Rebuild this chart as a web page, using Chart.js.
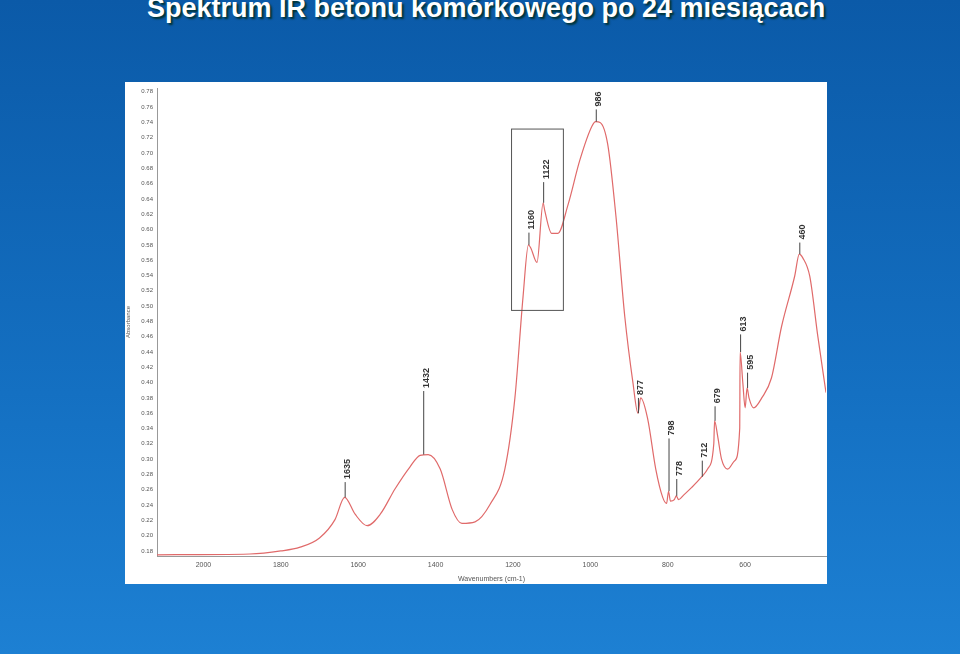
<!DOCTYPE html>
<html><head><meta charset="utf-8">
<script src="https://cdn.jsdelivr.net/npm/chart.js@4/dist/chart.umd.min.js"></script>
<style>
body{margin:0;width:960px;height:654px;overflow:hidden;background:linear-gradient(180deg,#0b5aa8 0%,#1470c2 60%,#1d80d3 100%);font-family:"Liberation Sans",Arial,sans-serif;position:relative}
#t{position:absolute;left:147px;top:-7px;color:#fff;font-weight:bold;font-size:27px;text-shadow:2px 2px 2px #033;white-space:nowrap}
#box{position:absolute;left:125px;top:82px;width:702px;height:502px;background:#fff}
</style></head><body>
<div id="t">Spektrum IR betonu komórkowego po 24 miesiącach</div>
<div id="box"><canvas id="c" width="702" height="502"></canvas></div>
<script>
const wavenumbers=[2120,1880,1800,1750,1700,1660,1635,1608,1577,1543,1505,1466,1440,1419,1388,1357,1332,1298,1259,1221,1195,1174,1160,1154,1138,1122,1118,1100,1084,1058,1027,996,986,975,955,934,911,890,877,870,852,831,813,803,798,793,783,778,772,759,738,712,697,681,679,671,661,645,627,614,613,606,600,595,590,578,557,532,506,472,460,451,433,412,391];
const absorbance=[0.175,0.176,0.18,0.185,0.197,0.221,0.25,0.228,0.213,0.228,0.261,0.29,0.305,0.306,0.287,0.234,0.216,0.218,0.241,0.287,0.38,0.512,0.58,0.576,0.557,0.635,0.625,0.595,0.595,0.632,0.691,0.735,0.741,0.740,0.711,0.618,0.486,0.40,0.36,0.38,0.353,0.287,0.25,0.242,0.258,0.245,0.247,0.252,0.247,0.253,0.263,0.277,0.287,0.32,0.35,0.33,0.30,0.287,0.298,0.34,0.44,0.40,0.367,0.393,0.38,0.367,0.38,0.406,0.473,0.539,0.568,0.563,0.539,0.46,0.387];
const peakLabels=["1635","1432","1160","1122","986","877","798","778","712","679","613","595","460"];
const peakPos=[1635,1432,1160,1122,986,877,798,778,712,679,613,595,460];
const peakLineTop=[0.27,0.389,0.596,0.662,0.757,0.38,0.327,0.274,0.298,0.369,0.463,0.413,0.583];
const peakLineBottom=[0.25,0.306,0.58,0.635,0.741,0.36,0.258,0.252,0.277,0.35,0.44,0.393,0.568];
const xTicks=[2000,1800,1600,1400,1200,1000,800,600];
const boxRange={x1:1205,x2:1071,y1:0.732,y2:0.495};
const ann={id:'ann',afterDatasetsDraw(ch){const c=ch.ctx,x=ch.scales.x,y=ch.scales.y;c.save();
c.strokeStyle='#444';c.lineWidth=1;c.fillStyle='#333';c.font='bold 9px "Liberation Sans",Arial';
peakLabels.forEach((l,i)=>{const px=x.getPixelForValue(peakPos[i]),t=y.getPixelForValue(peakLineTop[i]),b=y.getPixelForValue(peakLineBottom[i]);
c.beginPath();c.moveTo(px+0.5,b);c.lineTo(px+0.5,t);c.stroke();
c.save();c.translate(px+3,t-3);c.rotate(-Math.PI/2);c.textBaseline='middle';c.fillText(l,0,0);c.restore();});
c.strokeStyle='#555';const a=x.getPixelForValue(boxRange.x1),bx=x.getPixelForValue(boxRange.x2),ya=y.getPixelForValue(boxRange.y1),yb=y.getPixelForValue(boxRange.y2);
c.strokeRect(a+0.5,ya+0.5,bx-a,yb-ya);c.restore();}};
new Chart(document.getElementById('c'),{type:'line',
data:{datasets:[{data:wavenumbers.map((w,i)=>({x:w,y:absorbance[i]})),borderColor:'#e06a6a',borderWidth:1.2,pointRadius:0,cubicInterpolationMode:'monotone'}]},
options:{responsive:false,animation:false,layout:{padding:{top:6,right:1,left:0,bottom:0}},
plugins:{legend:{display:false},tooltip:{enabled:false}},
scales:{x:{type:'linear',reverse:true,min:391,max:2120,afterBuildTicks(s){s.ticks=xTicks.map(v=>({value:v}));},
grid:{display:false,drawTicks:true,tickLength:3},border:{color:'#999'},
ticks:{color:'#555',font:{size:7},padding:2,maxRotation:0,callback:v=>String(v)},
title:{display:true,text:'Wavenumbers (cm-1)',color:'#555',font:{size:7},padding:1},afterFit(s){s.height=28;}},
y:{min:0.1734,max:0.785,afterBuildTicks(s){const t=[];for(let v=0.18;v<=0.781;v+=0.02)t.push({value:+v.toFixed(2)});s.ticks=t;},
grid:{display:false,tickLength:3},border:{color:'#999',dash:[1,1]},
ticks:{color:'#555',font:{size:6},padding:1,callback:v=>v.toFixed(2)},
title:{display:true,text:'Absorbance',color:'#555',font:{size:6},padding:0},afterFit(s){s.width=32;}}}},
plugins:[ann]});
</script></body></html>
